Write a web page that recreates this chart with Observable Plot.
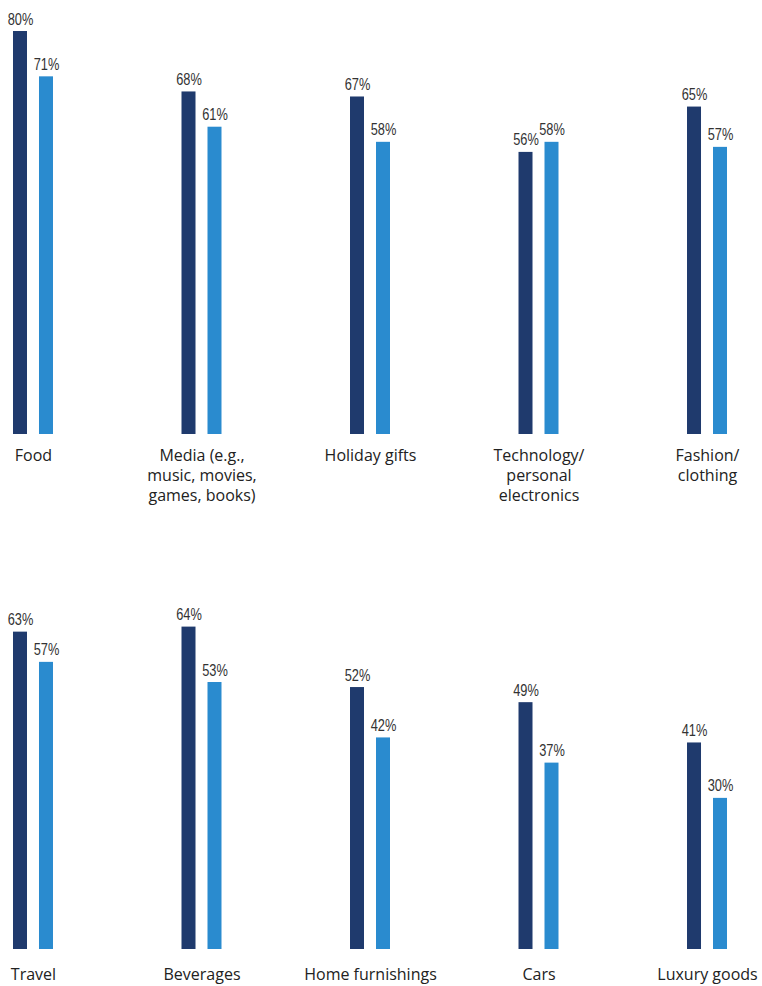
<!DOCTYPE html>
<html>
<head>
<meta charset="utf-8">
<script src="https://cdn.jsdelivr.net/npm/d3@7"></script>
<script src="https://cdn.jsdelivr.net/npm/@observablehq/plot@0.6"></script>
<style>
  html, body { margin: 0; padding: 0; background: #fff; }
  #chart svg { display: block; }
</style>
</head>
<body>
<div id="chart"></div>
<script>
// ---- data ----
const SERIES = ["Group 1", "Group 2"];
const COLORS = ["#1f3a6d", "#2a8bcf"];

const row1Categories = ["Food", "Media (e.g.,\nmusic, movies,\ngames, books)", "Holiday gifts", "Technology/\npersonal\nelectronics", "Fashion/\nclothing"];
const row1Group1 = [80, 68, 67, 56, 65];
const row1Group2 = [71, 61, 58, 58, 57];

const row2Categories = ["Travel", "Beverages", "Home furnishings", "Cars", "Luxury goods"];
const row2Group1 = [63, 64, 52, 49, 41];
const row2Group2 = [57, 53, 42, 37, 30];

const LABEL_FONT = "'Liberation Sans', Arial, sans-serif";
const CAT_FONT = "'Open Sans', 'Noto Sans', Lato, sans-serif";

function row(cats, g1, g2, height, marginBottom, catOffset) {
  const data = [];
  cats.forEach((c, i) => {
    data.push({cat: c, series: SERIES[0], value: g1[i]});
    data.push({cat: c, series: SERIES[1], value: g2[i]});
  });
  return Plot.plot({
    width: 762,
    height,
    marginTop: 31,
    marginBottom,
    marginLeft: 3,
    marginRight: 25,
    style: {background: "#fff"},
    fx: {domain: cats, paddingInner: 0.644, paddingOuter: 0, round: false, axis: null, label: null},
    x: {domain: SERIES, paddingInner: 0.4615, paddingOuter: 0.3846, round: false, axis: null, label: null},
    y: {domain: [0, 80], axis: null, label: null},
    color: {domain: SERIES, range: COLORS},
    marks: [
      Plot.barY(data, {fx: "cat", x: "series", y: "value", fill: "series"}),
      Plot.text(data, {
        fx: "cat", x: "series", y: "value",
        text: d => d.value + "%",
        lineAnchor: "bottom", dy: -7,
        fontFamily: LABEL_FONT, fontSize: 16, fill: "#333"
      }),
      Plot.text(cats, {
        fx: d => d,
        frameAnchor: "bottom",
        text: d => d,
        lineAnchor: "top", dy: catOffset,
        lineHeight: 1.25,
        fontFamily: CAT_FONT, fontSize: 16, fill: "#222"
      })
    ]
  });
}

const chart = document.getElementById("chart");
chart.append(row(row1Categories, row1Group1, row1Group2, 515, 81, 12));
chart.append(row(row2Categories, row2Group1, row2Group2, 471, 37, 16));

// narrow the value labels (condensed look)
chart.querySelectorAll('g[font-family*="Liberation Sans"] text').forEach(t => {
  const w = t.getComputedTextLength();
  t.setAttribute("textLength", (w * 0.8).toFixed(2));
  t.setAttribute("lengthAdjust", "spacingAndGlyphs");
});
</script>
</body>
</html>
